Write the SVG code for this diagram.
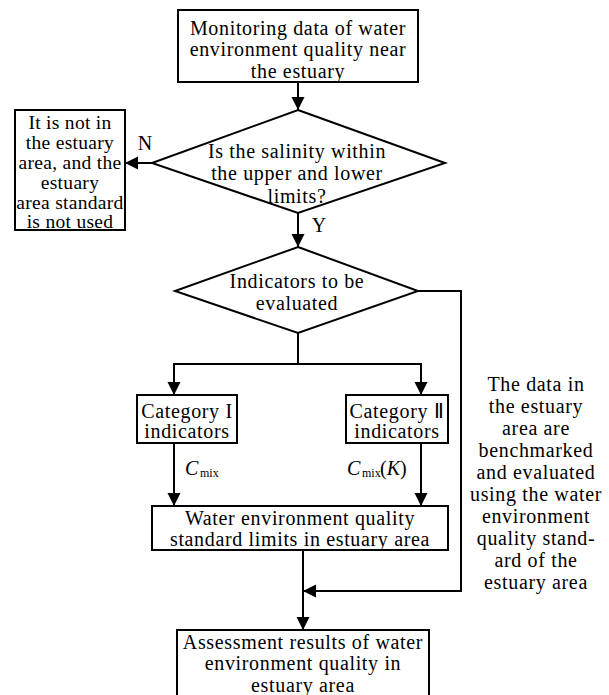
<svg xmlns="http://www.w3.org/2000/svg" width="609" height="695" viewBox="0 0 609 695">
<style>
.box{fill:#fff;stroke:#000;stroke-width:2}
.ln{fill:none;stroke:#000;stroke-width:2}
text{font-family:"Liberation Serif","Times New Roman",serif;fill:#000}
.t{font-size:20px;letter-spacing:0.65px;text-anchor:middle}
.s{font-size:19.5px;letter-spacing:0.3px;text-anchor:middle}
.lab{font-size:20px;text-anchor:middle}
.ci{font-size:20px;font-style:italic}
.sub{font-size:12px}
</style>
<defs>
<marker id="ah" markerUnits="userSpaceOnUse" markerWidth="14" markerHeight="14" refX="13" refY="6.5" orient="auto">
<path d="M0,0 L13,6.5 L0,13 z" fill="#000"/>
</marker>
</defs>
<rect width="609" height="695" fill="#fff"/>
<g id="connectors">
<line class="ln" x1="298" y1="82" x2="298" y2="110" marker-end="url(#ah)"/>
<line class="ln" x1="152" y1="163" x2="125" y2="163" marker-end="url(#ah)"/>
<line class="ln" x1="298" y1="213" x2="298" y2="247" marker-end="url(#ah)"/>
<polyline class="ln" points="298,333 298,364"/>
<polyline class="ln" points="174,364 421,364"/>
<line class="ln" x1="174" y1="363" x2="174" y2="395" marker-end="url(#ah)"/>
<line class="ln" x1="421" y1="363" x2="421" y2="395" marker-end="url(#ah)"/>
<line class="ln" x1="174" y1="443" x2="174" y2="506" marker-end="url(#ah)"/>
<line class="ln" x1="421" y1="443" x2="421" y2="506" marker-end="url(#ah)"/>
<line class="ln" x1="303" y1="550" x2="303" y2="630" marker-end="url(#ah)"/>
<polyline class="ln" points="418,291 461,291 461,591 303,591" marker-end="url(#ah)"/>
<text class="lab" x="145" y="150">N</text>
<text class="lab" x="319" y="232">Y</text>
<text class="ci" x="185" y="475">C</text><text class="sub" x="200" y="477">mix</text>
<text class="ci" x="347" y="475">C</text><text class="sub" x="362" y="477">mix</text><text class="ci" x="380" y="475"><tspan font-style="normal">(</tspan>K<tspan font-style="normal">)</tspan></text>
</g>
<g id="n1">
<rect class="box" x="178" y="10" width="240" height="72"/>
<text class="t" x="298" y="34.5">Monitoring data of water</text>
<text class="t" x="298" y="56">environment quality near</text>
<text class="t" x="298" y="77.5">the estuary</text>
</g>
<g id="d1">
<polygon class="box" points="298,110 445,163 298,213 152,163"/>
<text class="t" x="297" y="158">Is the salinity within</text>
<text class="t" x="297" y="180">the upper and lower</text>
<text class="t" x="297" y="203">limits?</text>
</g>
<g id="n2">
<rect class="box" x="15" y="110" width="110" height="120"/>
<text class="s" x="70" y="129">It is not in</text>
<text class="s" x="70" y="149">the estuary</text>
<text class="s" x="70" y="169">area, and the</text>
<text class="s" x="70" y="189">estuary</text>
<text class="s" x="70" y="209">area standard</text>
<text class="s" x="70" y="228">is not used</text>
</g>
<g id="d2">
<polygon class="box" points="298,247 418,291 298,333 175,291"/>
<text class="t" x="297" y="288">Indicators to be</text>
<text class="t" x="297" y="310">evaluated</text>
</g>
<g id="n3">
<rect class="box" x="137" y="395" width="100" height="48"/>
<text class="t" x="187" y="418">Category I</text>
<text class="t" x="187" y="438">indicators</text>
</g>
<g id="n4">
<rect class="box" x="346" y="395" width="102" height="48"/>
<text class="t" x="397" y="418">Category Ⅱ</text>
<text class="t" x="397" y="438">indicators</text>
</g>
<g id="n5">
<rect class="box" x="152" y="506" width="296" height="44"/>
<text class="t" x="300" y="525">Water environment quality</text>
<text class="t" x="300" y="546">standard limits in estuary area</text>
</g>
<g id="n6">
<rect class="box" x="177" y="630" width="252" height="70"/>
<text class="t" x="303" y="649">Assessment results of water</text>
<text class="t" x="303" y="670">environment quality in</text>
<text class="t" x="303" y="692">estuary area</text>
</g>
<g id="note">
<text class="t" x="536" y="391">The data in</text>
<text class="t" x="536" y="413">the estuary</text>
<text class="t" x="536" y="435">area are</text>
<text class="t" x="536" y="457">benchmarked</text>
<text class="t" x="536" y="479">and evaluated</text>
<text class="t" x="536" y="501">using the water</text>
<text class="t" x="536" y="523">environment</text>
<text class="t" x="536" y="545">quality stand-</text>
<text class="t" x="536" y="567">ard of the</text>
<text class="t" x="536" y="589">estuary area</text>
</g>
</svg>
